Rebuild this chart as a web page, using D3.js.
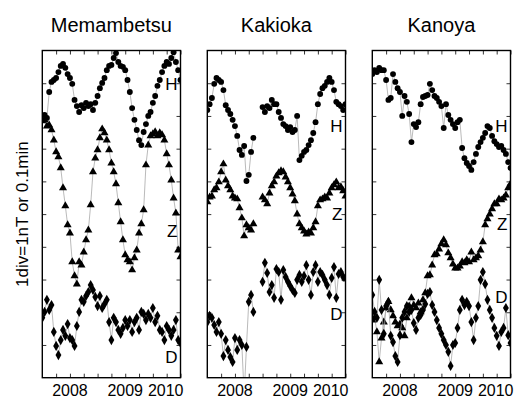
<!DOCTYPE html>
<html><head><meta charset="utf-8">
<script src="https://cdn.jsdelivr.net/npm/d3@7"></script>
<style>
html,body{margin:0;padding:0;background:#fff;}
text{font-family:"Liberation Sans",Arial,Helvetica,sans-serif;fill:#000;}
</style></head>
<body><svg id="c" width="517" height="399"></svg>
<script>
// stations (panel titles)
const stations = ["Memambetsu","Kakioka","Kanoya"];
// semi-monthly sample times (years)
const times = d3.range(61).map(i => 2007.5 + i/24);
const xTickLabels = ["2008","2009","2010"];
const yLabel = "1div=1nT or 0.1min";
const components = ["H","Z","D"];

// values in divisions (1 div = 1 nT or 0.1 min), offset per component
const memH = [7.88,8.03,7.94,8.73,9.04,9.10,9.16,9.34,9.53,9.59,9.47,9.28,9.16,8.98,8.49,8.30,8.12,8.33,8.24,8.40,8.30,8.36,8.18,8.40,8.61,8.85,9.01,9.16,9.40,9.53,9.56,9.77,9.92,9.65,9.53,9.50,9.40,9.10,8.73,8.24,7.88,7.57,7.26,7.11,7.51,7.75,8.00,8.12,8.40,8.61,8.92,9.10,9.34,9.53,9.65,9.59,9.77,9.95,9.65,9.40,9.10];
const memZ = [7.85,7.88,7.69,7.72,7.57,7.26,6.90,6.75,6.41,5.80,5.25,4.67,4.42,3.54,3.11,2.86,3.54,3.44,3.84,4.21,4.51,5.28,6.29,6.71,6.96,7.33,7.60,7.48,7.26,6.96,6.56,6.29,5.92,5.34,4.76,4.21,3.75,3.60,3.54,3.29,3.66,3.90,4.42,4.70,5.13,6.50,7.11,7.39,7.45,7.51,7.39,7.48,7.42,7.26,6.84,6.50,6.04,5.49,5.03,3.90,3.69];
const memD = [1.83,2.01,2.38,2.07,2.22,1.40,0.97,0.69,1.15,1.46,1.28,1.64,1.21,1.15,0.97,1.58,2.01,2.38,2.32,2.50,2.62,2.83,2.68,2.47,2.19,2.50,2.13,2.25,2.38,1.70,1.15,1.83,1.70,1.46,1.34,1.52,1.76,1.58,1.76,1.40,1.70,1.83,1.46,2.01,1.95,1.76,1.95,1.83,2.13,1.70,1.89,1.46,1.40,1.15,1.58,1.46,1.28,1.46,1.76,1.15,1.06];
const kakH = [8.18,8.36,8.55,8.98,9.16,9.10,9.04,8.79,8.33,8.18,8.06,7.88,7.69,7.39,6.96,6.81,7.08,6.01,6.20,6.90,7.33,null,null,null,8.27,8.12,8.30,8.24,8.49,8.36,8.36,8.12,7.94,7.75,7.69,7.57,7.66,7.51,7.57,8.00,6.65,6.78,6.90,6.96,7.11,7.26,7.48,7.81,8.36,8.67,8.85,8.92,9.04,9.16,9.04,8.79,8.43,8.36,8.30,8.18,8.36];
const kakZ = [5.37,5.52,5.55,5.74,5.80,5.98,6.29,6.53,6.04,5.86,5.74,5.55,5.49,5.46,5.19,4.88,4.33,4.67,4.58,4.51,4.70,null,null,null,5.52,5.43,5.31,5.64,5.86,5.98,6.16,6.26,6.32,6.29,6.13,5.98,5.80,5.61,5.40,5.00,4.70,4.58,4.48,4.39,4.45,4.42,4.58,4.76,5.25,5.43,5.46,5.52,5.49,5.64,5.80,5.89,5.98,5.80,5.83,5.71,5.55];
const kakD = [1.70,1.89,1.83,1.61,1.40,1.70,1.34,0.66,1.15,0.85,0.63,0.48,1.21,0.85,1.15,1.00,-0.53,0.94,2.32,2.53,2.01,null,null,null,2.93,3.51,3.20,2.62,2.83,2.44,3.32,3.23,2.38,3.29,3.08,2.93,2.80,2.68,2.59,2.99,3.14,2.93,3.11,3.44,2.99,2.53,3.23,3.44,2.93,3.23,3.14,2.99,2.83,2.53,3.05,3.38,2.44,3.17,3.23,3.08,3.05];
const kanH = [9.28,9.40,9.34,9.47,9.40,9.40,9.10,8.49,8.55,9.28,9.04,8.85,8.73,8.00,8.61,8.43,8.06,7.20,7.75,7.66,7.81,8.36,8.58,8.61,8.64,8.98,8.79,8.61,8.55,8.43,8.30,7.63,8.36,8.03,7.88,7.75,7.63,7.81,7.88,7.02,6.71,6.56,6.47,6.35,6.59,6.84,7.05,7.20,7.33,7.48,7.69,7.63,7.39,7.23,7.14,7.05,7.08,6.96,6.84,6.59,6.41];
const kanZ = [1.76,1.83,1.40,0.48,1.21,1.70,2.13,2.32,2.07,1.89,1.70,1.58,1.64,1.52,1.28,1.83,2.19,2.44,2.22,2.13,2.28,2.01,2.38,2.59,3.11,3.14,3.44,3.75,3.78,3.93,4.09,4.21,4.06,3.81,3.66,3.47,3.35,3.35,3.41,3.54,3.51,3.60,3.54,3.84,3.60,3.66,3.72,3.90,4.15,4.67,4.85,5.00,5.16,5.31,5.31,5.46,5.43,5.49,5.58,5.80,5.92];
const kanD = [2.53,2.01,1.83,2.99,2.07,1.34,2.19,2.32,1.28,1.09,0.66,0.48,1.30,1.83,2.01,2.19,2.01,2.07,1.67,1.46,1.83,1.92,2.07,2.25,2.56,2.62,2.22,2.01,1.76,1.52,1.34,1.15,1.00,0.79,0.36,1.00,1.06,1.52,2.07,2.38,2.22,2.32,2.19,1.70,1.15,1.83,2.19,2.99,3.23,2.86,2.38,2.07,1.83,1.52,1.28,0.97,1.40,1.52,2.13,1.30,1.06];

// label positions (in divisions) for the component letters
const labelLevels = [[8.79,4.30,0.45],[7.51,4.82,1.76],[7.51,4.51,2.28]];

const seriesByStation = [[memH,memZ,memD],[kakH,kakZ,kakD],[kanH,kanZ,kanD]];
const symbols = [d3.symbolCircle, d3.symbolTriangle, d3.symbolDiamond];
const symSizes = [27, 28, 30];

const svg = d3.select("#c");
const panelLefts = [42.3, 207.3, 372.3];
const panelW = 138.2;
const plotTop = 50.5, plotBottom = 377.7;

const y = d3.scaleLinear().domain([0,10]).range([plotBottom, plotTop]);

svg.append("text").attr("transform",`translate(28,${(plotTop+plotBottom)/2}) rotate(-90)`)
  .attr("text-anchor","middle").style("font-size","17px").text(yLabel);

stations.forEach((name, p) => {
  const L = panelLefts[p];
  const x = d3.scaleLinear().domain([2007.5, 2010.0]).range([L, L+panelW]);
  const g = svg.append("g");
  const cid = "clip"+p;
  svg.append("clipPath").attr("id",cid).append("rect")
    .attr("x",L).attr("y",plotTop).attr("width",panelW).attr("height",plotBottom-plotTop);

  g.append("text").attr("x",L+panelW/2).attr("y",32).attr("text-anchor","middle")
    .style("font-size","20px").text(name);

  const plot = g.append("g").attr("clip-path",`url(#${cid})`);
  seriesByStation[p].forEach((vals, s) => {
    const data = times.map((t,i)=>({t, v: vals[i]}));
    const line = d3.line().defined(d=>d.v!==null).x(d=>x(d.t)).y(d=>y(d.v));
    plot.append("path").datum(data).attr("d",line)
      .attr("fill","none").attr("stroke","#a8a8a8").attr("stroke-width",0.8);
    plot.selectAll(null).data(data.filter(d=>d.v!==null)).enter().append("path")
      .attr("d", d3.symbol().type(symbols[s]).size(symSizes[s]))
      .attr("transform", d=>`translate(${x(d.t)},${y(d.v)})`)
      .attr("fill","#000");
    g.append("text").attr("x", x(2010.0)-3).attr("y", y(labelLevels[p][s]))
      .attr("text-anchor","end").style("font-size","17px").text(components[s]);
  });

  const qTicks = d3.range(2007.75, 2010.01, 0.25);
  const yTicks = d3.range(1, 10, 1);
  g.append("g").attr("transform",`translate(0,${plotBottom})`)
    .call(d3.axisTop(x).tickValues(qTicks).tickSize(4).tickFormat(""))
    .call(a=>a.select(".domain").remove());
  g.append("g").attr("transform",`translate(0,${plotTop})`)
    .call(d3.axisBottom(x).tickValues(qTicks).tickSize(4).tickFormat(""))
    .call(a=>a.select(".domain").remove());
  g.append("g").attr("transform",`translate(${L},0)`)
    .call(d3.axisRight(y).tickValues(yTicks).tickSize(4).tickFormat(""))
    .call(a=>a.select(".domain").remove());
  g.append("g").attr("transform",`translate(${L+panelW},0)`)
    .call(d3.axisLeft(y).tickValues(yTicks).tickSize(4).tickFormat(""))
    .call(a=>a.select(".domain").remove());
  g.selectAll(".tick line").attr("stroke","#000").attr("stroke-width",0.8);

  g.append("rect").attr("x",L).attr("y",plotTop).attr("width",panelW).attr("height",plotBottom-plotTop)
    .attr("fill","none").attr("stroke","#000").attr("stroke-width",1.4);

  xTickLabels.forEach(lab => {
    const yr = +lab;
    const t = g.append("text").attr("y",395.5).style("font-size","16px").text(lab);
    if (yr >= 2010) t.attr("x", x(yr)+3).attr("text-anchor","end");
    else t.attr("x", x(yr)).attr("text-anchor","middle");
  });
});
</script></body></html>
